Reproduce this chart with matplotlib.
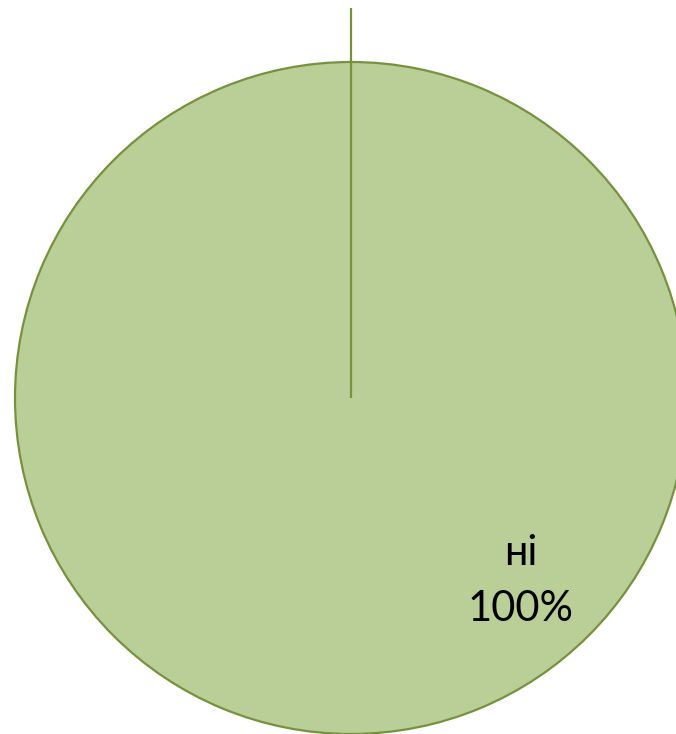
import matplotlib
matplotlib.use("Agg")
import matplotlib.pyplot as plt

# chart data
labels = ["так", "ні"]
values = [0, 100]

fill_color = "#BACE97"
edge_color = "#76923C"

fig = plt.figure(figsize=(6.76, 7.34), dpi=100)
ax = fig.add_axes([0, 0, 1, 1])

center = (351, 336)
radius = 336

shown = [v for v in values if v > 0]
ax.pie(shown, radius=radius, center=center, startangle=90, counterclock=False,
       colors=[fill_color], wedgeprops=dict(edgecolor=edge_color, linewidth=1.6),
       frame=True)
ax.set_xlim(0, 676)
ax.set_ylim(0, 734)
ax.set_aspect("equal")
ax.axis("off")

# zero slice sits at 12 o'clock: its boundary plus leader line
ax.plot([center[0], center[0]], [center[1], center[1] + radius * 1.16],
        color=edge_color, lw=1.6, solid_capstyle="butt")

# label of the 100% slice
total = sum(values)
pct = values[1] / total * 100
ax.text(521, 181, labels[1], ha="center", va="center", fontsize=30,
        family="Lato", color="black")
ax.text(521, 125, f"{pct:.0f}%", ha="center", va="center", fontsize=30,
        family="Lato", color="black")

fig.savefig("out.png", dpi=100)
